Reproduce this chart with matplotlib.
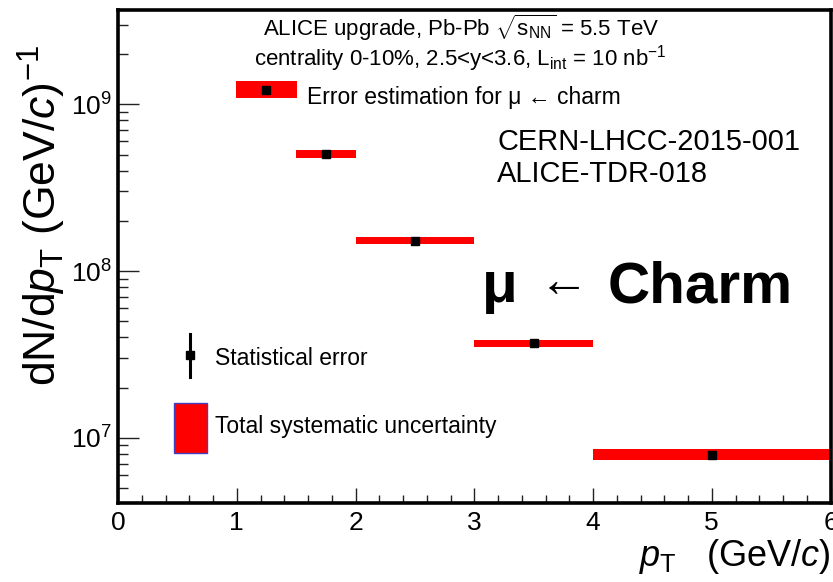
import matplotlib
matplotlib.use("Agg")
import matplotlib.pyplot as plt
from matplotlib.patches import Rectangle
from matplotlib.ticker import FixedLocator, MultipleLocator, LogLocator, NullFormatter
import numpy as np

plt.rcParams['font.family'] = ['Liberation Sans', 'DejaVu Sans']
plt.rcParams['mathtext.fontset'] = 'custom'
plt.rcParams['mathtext.rm'] = 'Liberation Sans'
plt.rcParams['mathtext.it'] = 'Liberation Sans:italic'
plt.rcParams['mathtext.bf'] = 'Liberation Sans:bold'

# pT bins (GeV/c) and estimated yields with relative systematic uncertainty
pt_low = np.array([1.5, 2.0, 3.0, 4.0])
pt_high = np.array([2.0, 3.0, 4.0, 6.0])
yields = np.array([5.05e8, 1.52e8, 3.70e7, 7.93e6])
syst_rel = np.array([0.054, 0.050, 0.047, 0.079])

x_ticks = [0, 1, 2, 3, 4, 5, 6]

fig = plt.figure(figsize=(8.33, 5.82), dpi=100)
ax = fig.add_axes([0.14166, 0.13574, 0.85534, 0.84708])

pt_center = 0.5 * (pt_low + pt_high)
lo = yields * (1 - syst_rel)
hi = yields * (1 + syst_rel)
ax.bar(pt_center, hi - lo, bottom=lo, width=pt_high - pt_low,
       color='#ff0000', edgecolor='none', zorder=2)
ax.plot(pt_center, yields, 's', color='black', ms=5.8, zorder=3)

ax.set_yscale('log')
ax.set_xlim(0, 6)
ax.set_ylim(4.06e6, 3.68e9)

ax.xaxis.set_major_locator(FixedLocator(x_ticks))
ax.xaxis.set_minor_locator(MultipleLocator(0.2))
ax.yaxis.set_major_locator(LogLocator(base=10, numticks=10))
ax.yaxis.set_minor_locator(LogLocator(base=10, subs=np.arange(2, 10), numticks=20))
ax.yaxis.set_minor_formatter(NullFormatter())

ax.tick_params(which='both', direction='in', top=False, right=False,
               labelsize=19, width=1.0, color='#222222')
ax.tick_params(axis='y', which='major', length=15, pad=4)
ax.tick_params(axis='y', which='minor', length=7)
ax.tick_params(axis='x', which='major', length=11, pad=6)
ax.tick_params(axis='x', which='minor', length=5.5)

for s in ax.spines.values():
    s.set_linewidth(2.6)
    s.set_color('black')

ax.set_xlabel(r'$p_{\mathrm{T}}$   (GeV/$c$)', fontsize=26, loc='right', labelpad=1)
ax.set_ylabel(r'dN/d$p_{\mathrm{T}}$ (GeV/$c$)$^{\mathrm{-1}}$', fontsize=32, loc='top')
ax.yaxis.set_label_coords(-0.07, 0.929)

tA = ax.transAxes
# header
ax.text(0.481, 0.9473, r'ALICE upgrade, Pb-Pb $\sqrt{\mathrm{s}_{\mathrm{NN}}}$ = 5.5 TeV',
        transform=tA, ha='center', va='baseline', fontsize=16)
ax.text(0.481, 0.8884, r'centrality 0-10%, 2.5<y<3.6, L$_{\mathrm{int}}$ = 10 nb$^{-1}$',
        transform=tA, ha='center', va='baseline', fontsize=16)

# legend key: error estimation
ax.add_patch(Rectangle((0.1656, 0.8215), 0.0856, 0.0345, transform=tA,
                       facecolor='#ff0000', edgecolor='none', zorder=4))
ax.plot([0.2084], [0.8387], 's', color='black', ms=5.8, transform=tA, zorder=5)
ax.text(0.2653, 0.8093, 'Error estimation for μ ← charm', transform=tA,
        ha='left', va='baseline', fontsize=16.5)

# legend key: statistical error
ax.plot([0.1011, 0.1011], [0.2556, 0.3428], '-', color='black', lw=2.2, transform=tA)
ax.plot([0.1011], [0.3002], 's', color='black', ms=5.5, transform=tA)
ax.text(0.1361, 0.2799, 'Statistical error', transform=tA,
        ha='left', va='baseline', fontsize=16.5)

# legend key: systematic uncertainty
ax.add_patch(Rectangle((0.0786, 0.1014), 0.0463, 0.1014, transform=tA,
                       facecolor='#ff0000', edgecolor='#4040c0', lw=1.0, zorder=4))
ax.text(0.1361, 0.1426, 'Total systematic uncertainty', transform=tA,
        ha='left', va='baseline', fontsize=16.5)

# document references
ax.text(0.532, 0.700, 'CERN-LHCC-2015-001\nALICE-TDR-018', transform=tA,
        ha='left', va='center', fontsize=20.9, linespacing=1.15)

# big label
ax.text(0.510, 0.4077, 'μ', transform=tA, ha='left', va='baseline',
        fontsize=42, fontweight='bold')
ax.text(0.59, 0.446, '←', transform=tA, ha='left', va='center', fontsize=36)
ax.text(0.687, 0.4077, 'Charm', transform=tA, ha='left', va='baseline',
        fontsize=42, fontweight='bold')

fig.savefig('out.png', dpi=100)
